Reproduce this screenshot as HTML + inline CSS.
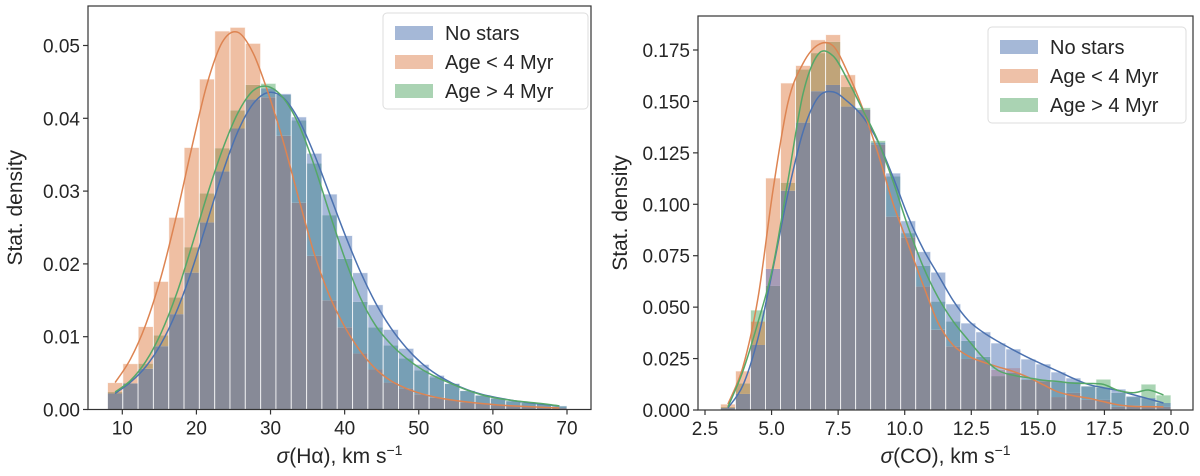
<!DOCTYPE html>
<html><head><meta charset="utf-8"><style>
body{margin:0;background:#fff;}
svg text{font-family:"Liberation Sans","DejaVu Sans",sans-serif;fill:#262626;}
</style></head><body>
<svg id="c" width="1200" height="471" xmlns="http://www.w3.org/2000/svg"></svg>
<script>
const seriesNames=["No stars","Age < 4 Myr","Age > 4 Myr"];
const leftBlue=[0.0022,0.0036,0.0056,0.0087,0.0131,0.0188,0.0257,0.0327,0.0386,0.0426,0.0441,0.0434,0.0402,0.0352,0.0296,0.0239,0.0188,0.0144,0.0110,0.0084,0.0062,0.0047,0.0036,0.0026,0.0020,0.0016,0.0012,0.0009,0.0007,0.0005];
const leftOrange=[0.0037,0.0063,0.0114,0.0176,0.0264,0.0360,0.0454,0.0520,0.0525,0.0503,0.0429,0.0376,0.0284,0.0211,0.0150,0.0113,0.0077,0.0055,0.0037,0.0029,0.0021,0.0016,0.0013,0.0010,0.0008,0.0006,0.0005,0.0004,0.0003,0.0002];
const leftGreen=[0.0024,0.0036,0.0063,0.0102,0.0154,0.0223,0.0297,0.0359,0.0411,0.0446,0.0448,0.0432,0.0397,0.0338,0.0267,0.0207,0.0148,0.0113,0.0088,0.0070,0.0054,0.0044,0.0035,0.0026,0.0019,0.0015,0.0012,0.0010,0.0008,0.0005];
const rightBlue=[0.0010,0.0078,0.0316,0.0686,0.1066,0.1397,0.1550,0.1580,0.1475,0.1460,0.1300,0.1152,0.0920,0.0770,0.0670,0.0516,0.0423,0.0380,0.0326,0.0297,0.0248,0.0224,0.0185,0.0156,0.0117,0.0107,0.0102,0.0068,0.0058,0.0034];
const rightOrange=[0.0029,0.0190,0.0430,0.1128,0.1590,0.1675,0.1800,0.1825,0.1630,0.1460,0.1290,0.0940,0.0840,0.0600,0.0390,0.0310,0.0248,0.0243,0.0195,0.0204,0.0146,0.0140,0.0063,0.0083,0.0049,0.0049,0.0015,0.0020,0.0015,0.0015];
const rightGreen=[0.0015,0.0130,0.0486,0.0603,0.1105,0.1655,0.1735,0.1790,0.1570,0.1470,0.1310,0.1135,0.0860,0.0700,0.0527,0.0430,0.0336,0.0258,0.0165,0.0180,0.0150,0.0146,0.0136,0.0136,0.0115,0.0150,0.0083,0.0063,0.0126,0.0073];
const leftXTicks=[10,20,30,40,50,60,70];
const leftYTicks=[0,0.01,0.02,0.03,0.04,0.05];
const rightXTicks=[2.5,5.0,7.5,10.0,12.5,15.0,17.5,20.0];
const rightYTicks=[0,0.025,0.05,0.075,0.1,0.125,0.15,0.175];

const NS="http://www.w3.org/2000/svg";
const svg=document.getElementById('c');
function mk(tag,attrs,parent){const e=document.createElementNS(NS,tag);for(const k in attrs)e.setAttribute(k,attrs[k]);(parent||svg).appendChild(e);return e;}
const fills=["rgba(76,114,176,0.5)","rgba(221,132,82,0.5)","rgba(85,168,104,0.5)"];
const lines=["#4c72b0","#dd8452","#55a868"];
const mixCol={1:"#a6b9d9",2:"#efbfa3",4:"#a9d4b3",3:"#a79cb6",5:"#779fb5",6:"#c0a479",7:"#878a97"};
function smooth(pts){let d="M"+pts[0][0]+","+pts[0][1];for(let i=0;i<pts.length-1;i++){const p0=pts[Math.max(0,i-1)],p1=pts[i],p2=pts[i+1],p3=pts[Math.min(pts.length-1,i+2)];
const c1=[p1[0]+(p2[0]-p0[0])/6,p1[1]+(p2[1]-p0[1])/6],c2=[p2[0]-(p3[0]-p1[0])/6,p2[1]-(p3[1]-p1[1])/6];d+=" C"+c1+" "+c2+" "+p2;}return d;}
function avg3(s){return s.map((v,i)=>(i===0||i===s.length-1)?v:0.25*s[i-1]+0.5*v+0.25*s[i+1]);}
function panel(o){
  const g=mk('g',{});
  
  
  const X=v=>o.x0+(v-o.d0)*(o.x1-o.x0)/(o.d1-o.d0);
  const Y=v=>o.y0-(v/o.ymax)*(o.y0-o.yTop);
  const n=o.series[0].length;
  const w=(o.bEnd-o.bStart)/n;
  for(let i=0;i<n;i++){
    const xa=X(o.bStart+i*w), xb=X(o.bStart+(i+1)*w);
    const vals=o.series.map(s=>s[i]);
    const levels=[0,...vals.slice().sort((a,b)=>a-b)];
    for(let k=0;k<3;k++){
      const lo=levels[k],hi=levels[k+1];
      if(hi<=lo)continue;
      let mask=0;vals.forEach((v,si)=>{if(v>=hi)mask|=(1<<si);});
      const r=mk('rect',{x:xa,y:Y(hi),width:xb-xa,height:Y(lo)-Y(hi),fill:mixCol[mask]},g);
      
      
    }
    const e=mk('rect',{x:xa,y:Y(Math.max(...vals)),width:xb-xa,height:o.y0-Y(Math.max(...vals)),fill:"none",stroke:"rgba(255,255,255,0.75)","stroke-width":1},g);
    
    
  }
  o.series.forEach((s,si)=>{
    const sm=avg3(s);
    const pts=sm.map((v,i)=>[X(o.bStart+(i+0.5)*w),Y(v)]);
    const p=mk('path',{d:smooth(pts),fill:"none",stroke:lines[si],"stroke-width":1.5},g);
    
    
  });
  const f=mk('rect',{x:o.fx0,y:o.fy0,width:o.fx1-o.fx0,height:o.y0-o.fy0,fill:"none",stroke:"#333","stroke-width":1.2},g);
  
  
  o.xt.forEach((t,i)=>{
    mk('line',{x1:X(t),x2:X(t),y1:o.y0,y2:o.y0+5,stroke:"#333","stroke-width":1.2},g);
    const tx=mk('text',{x:X(t),y:o.y0+25,"text-anchor":"middle","font-size":19},g);
    tx.textContent=o.xtl(t);
    
    
  });
  o.yt.forEach(t=>{
    mk('line',{x1:o.fx0-5,x2:o.fx0,y1:Y(t),y2:Y(t),stroke:"#333","stroke-width":1.2},g);
    const tx=mk('text',{x:o.fx0-8,y:Y(t)+7,"text-anchor":"end","font-size":19},g);
    tx.textContent=t.toFixed(o.dec);
    
    
  });
  const xl=mk('text',{x:(o.fx0+o.fx1)/2,y:463,"text-anchor":"middle","font-size":21},g);
  xl.innerHTML=o.xlabel;
  
  
  const yl=mk('text',{x:0,y:0,"text-anchor":"middle","font-size":21,transform:"translate("+o.ylx+","+((o.fy0+o.y0)/2)+") rotate(-90)"},g);
  yl.textContent="Stat. density";
  
  
  const lg=mk('g',{},g);
  
  
  mk('rect',{x:o.lx,y:o.ly,width:o.lw,height:96,rx:4,fill:"rgba(255,255,255,0.8)",stroke:"#ddd"},lg);
  seriesNames.forEach((nm,i)=>{
    const r=mk('rect',{x:o.lx+12,y:o.ly+13+i*29,width:38,height:14,fill:fills[i]},lg);
    
    
    const t=mk('text',{x:o.lx+62,y:o.ly+27+i*29,"font-size":20},lg);
    t.textContent=nm;
    
    
  });
}
panel({name:'left-panel',x0:122.3,x1:567,d0:10,d1:70,y0:409.5,yTop:45.5,ymax:0.05,bStart:8,bEnd:70,
 series:[leftBlue,leftOrange,leftGreen],fx0:88,fx1:591,fy0:6,xt:leftXTicks,xtl:t=>String(t),yt:leftYTicks,dec:2,
 xlabel:'<tspan font-style="italic">σ</tspan>(Hα), km s<tspan dy="-8" font-size="14">−1</tspan>',ylx:22,lx:383,ly:13,lw:205});
panel({name:'right-panel',x0:705,x1:1171,d0:2.5,d1:20,y0:410,yTop:50,ymax:0.175,bStart:3.08,bEnd:20,
 series:[rightBlue,rightOrange,rightGreen],fx0:698,fx1:1193,fy0:16,xt:rightXTicks,xtl:t=>t.toFixed(1),yt:rightYTicks,dec:3,
 xlabel:'<tspan font-style="italic">σ</tspan>(CO), km s<tspan dy="-8" font-size="14">−1</tspan>',ylx:627,lx:988,ly:27,lw:198});
</script>
</body></html>
